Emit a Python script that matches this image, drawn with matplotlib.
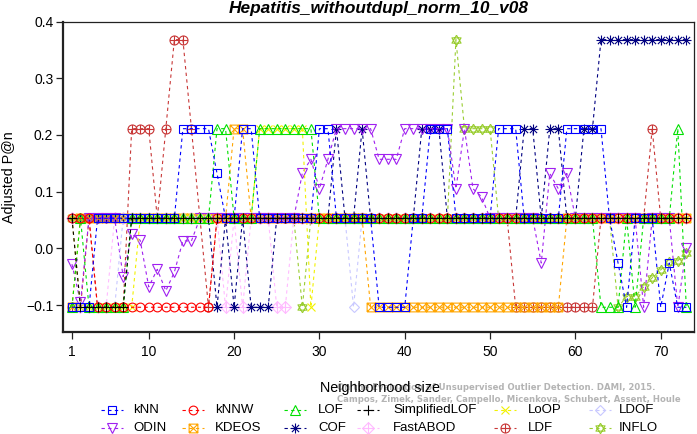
import matplotlib
matplotlib.use("Agg")
import matplotlib.pyplot as plt
from matplotlib.path import Path
from matplotlib.lines import Line2D

# levels of Adjusted P@n that the methods hit
L = -0.104
M = 0.053
H = 0.211
T = 0.368

k = list(range(1, 74))

knn = [L, L, L, M, M, M, M, M, M, M, M, M, M, H, H, H, H, 0.132, M, M,
       H, H, M, M, M, M, M, M, M, H, H, M, M, M, M, M, L, L, L, L,
       M, M, H, H, H, M, M, M, M, M, H, H, H, M, M, M, M, M, H, H,
       H, H, H, M, -0.026, L, M, M, M, L, -0.026, L, L]
knnw = [M, M, M, L, L, L, L, L, L, L, L, L, L, L, L, L, L, M, M, M,
        M, M, M, M, M, M, M, M, M, M, M, M, M, M, M, M, M, M, M, M,
        M, M, M, M, M, M, M, M, M, M, M, M, M, M, M, M, M, M, M, M,
        M, M, M, M, M, M, M, M, M, M, M, M, M]
lof = [L, M, L, L, L, L, L, M, M, M, M, M, M, M, M, M, M, H, H, M,
       M, M, H, H, H, H, H, H, H, M, M, M, M, M, M, M, M, M, M, M,
       M, M, M, M, M, M, M, M, M, M, M, M, M, M, M, M, M, M, M, M,
       M, M, L, L, L, M, L, M, M, M, M, H, L]
simplified_lof = [M, L, L, L, L, L, L, M, M, M, M, M, M, M, M, M, M, M, M, M,
                  M, M, M, M, M, M, M, M, M, M, M, M, M, M, M, M, M, M, M, M,
                  M, M, M, M, M, M, M, M, M, M, M, M, M, M, M, M, M, M, M, M,
                  M, M, M, M, M, M, M, M, M, M, M, M, M]
loop = [M, L, L, L, L, L, L, L, M, M, M, M, M, M, M, M, M, M, M, M,
        M, M, H, H, H, H, H, H, L, M, M, M, M, M, M, M, M, M, M, M,
        M, M, M, M, M, M, M, M, M, M, M, M, M, M, M, M, M, M, M, M,
        M, M, M, M, M, M, M, M, M, M, M, M, M]
ldof = [M, L, L, L, L, L, M, M, M, M, M, M, M, M, M, M, M, M, M, M,
        M, M, M, M, M, M, M, M, M, M, M, M, M, L, M, M, M, M, M, M,
        M, M, M, M, M, M, M, M, M, M, M, M, M, M, M, M, M, M, M, M,
        M, M, M, M, M, M, M, M, M, M, M, M, M]
odin = [-0.028, -0.095, M, M, M, M, -0.05, 0.025, 0.014, -0.068,
        -0.037, -0.075, -0.042, 0.013, 0.013, M, M, M, M, M,
        M, M, M, M, M, M, M, 0.133, 0.157, 0.105,
        0.157, H, H, H, H, H, 0.157, 0.157, 0.157, H,
        H, H, H, H, H, 0.105, H, 0.105, 0.091, M,
        M, M, M, M, M, -0.026, 0.132, 0.105, 0.132, M,
        M, M, M, M, M, M, M, L, M, M, M, L, 0.0]
kdeos = [L, M, M, M, M, M, M, M, M, M, M, M, M, M, M, M, M, M, M, H,
         H, M, M, M, M, M, M, M, M, M, M, M, M, M, M, L, L, L, L, L,
         L, L, L, L, L, L, L, L, L, L, L, L, L, L, L, L, L, L, M, M,
         M, M, M, M, M, M, M, M, M, M, M, M, M]
cof = [M, M, M, M, M, M, M, M, M, M, M, M, M, M, M, M, M, L, M, L,
       M, L, L, L, M, M, M, M, M, M, M, H, M, M, H, M, M, M, M, M,
       M, H, H, H, M, M, M, M, M, M, M, M, M, H, H, M, H, H, M, M,
       H, H, T, T, T, T, T, T, T, T, T, T, T]
fastabod = [M, L, L, L, L, M, M, M, M, M, M, M, M, M, M, M, M, M, L, M,
            L, M, M, M, L, L, M, M, M, M, M, M, M, M, M, M, M, M, M, M,
            M, M, M, M, M, M, M, M, M, M, M, M, M, M, M, M, M, M, M, M,
            M, M, M, M, M, M, M, M, M, M, M, M, M]
ldf = [L, L, M, L, L, L, L, H, H, H, M, H, T, T, H, M, L, M, M, M,
       M, M, M, M, M, M, M, M, M, M, M, M, M, M, M, M, M, M, M, M,
       M, M, M, M, M, M, M, M, M, M, M, M, L, L, L, L, L, L, L, L,
       L, L, M, M, M, M, M, M, H, M, M, M, M]
inflo = [M, M, M, M, M, M, M, M, M, M, M, M, M, M, M, M, M, M, M, M,
         M, M, M, M, M, M, M, L, M, M, M, M, M, M, M, M, M, M, M, M,
         M, M, M, M, M, T, H, H, H, H, M, M, M, M, M, M, M, M, M, M,
         M, M, M, M, L, -0.085, -0.085, -0.068, -0.052, -0.038,
         -0.025, -0.022, -0.008]

names = ["kNN", "kNNW", "LOF", "SimplifiedLOF", "LoOP", "LDOF",
         "ODIN", "KDEOS", "COF", "FastABOD", "LDF", "INFLO"]
series = [knn, knnw, lof, simplified_lof, loop, ldof,
          odin, kdeos, cof, fastabod, ldf, inflo]
colors = ["#0000ff", "#ff0000", "#00e000", "#000000", "#f2f200", "#c8c8ff",
          "#a020f0", "#ffa500", "#000080", "#ffbbff", "#c83737", "#9acd32"]

xticks = [1, 10, 20, 30, 40, 50, 60, 70]
yticks = [-0.1, 0.0, 0.1, 0.2, 0.3, 0.4]
ytick_labels = ["\u22120.1", "0.0", "0.1", "0.2", "0.3", "0.4"]

# R style point symbols
MV, LN = Path.MOVETO, Path.LINETO
square_x = Path([(-1, -1), (1, -1), (1, 1), (-1, 1), (-1, -1),
                 (-1, -1), (1, 1), (-1, 1), (1, -1)],
                [MV, LN, LN, LN, LN, MV, LN, MV, LN])
asterisk = Path([(0, -1), (0, 1), (-1, 0), (1, 0),
                 (-.72, -.72), (.72, .72), (-.72, .72), (.72, -.72)],
                [MV, LN] * 4)
diamond_plus = Path([(0, 1), (1, 0), (0, -1), (-1, 0), (0, 1),
                     (0, -1), (0, 1), (-1, 0), (1, 0)],
                    [MV, LN, LN, LN, LN, MV, LN, MV, LN])
circle_plus = Path.make_compound_path(
    Path.unit_circle(),
    Path([(0, -1), (0, 1), (-1, 0), (1, 0)], [MV, LN, MV, LN]))
star_david = Path([(0, 1), (0.866, -0.5), (-0.866, -0.5), (0, 1),
                   (0, -1), (0.866, 0.5), (-0.866, 0.5), (0, -1)],
                  [MV, LN, LN, LN, MV, LN, LN, LN])

markers = ["s", "o", "^", "+", "x", "D", "v", square_x, asterisk,
           diamond_plus, circle_plus, star_david]
msizes = [5.8, 6.3, 6.8, 7.5, 6.0, 5.4, 7.0, 6.3, 7.2, 8.4, 6.5, 7.6]

plt.rcParams['font.family'] = ['Liberation Sans', 'DejaVu Sans']

fig = plt.figure(figsize=(6.97, 4.34), dpi=100)
ax = fig.add_axes([63 / 697, 1 - 332 / 434, 631 / 697, 310.5 / 434])

# first methods end up on top, the black crosses above everything
n = len(series)
for i, (vals, c, m, ms) in enumerate(zip(series, colors, markers, msizes)):
    z = 2 + n - i
    if names[i] == "SimplifiedLOF":
        z = 3 + n
    ax.plot(k, vals, color=c, lw=0.8, linestyle=(0, (3, 3)),
            marker=m, ms=ms, mfc="none", mec=c, mew=0.8, zorder=z)

ax.set_xlim(-0.05, 73.9)
ax.set_ylim(-0.1476, 0.4)
ax.set_xticks(xticks)
ax.set_yticks(yticks)
ax.set_yticklabels(ytick_labels)
ax.tick_params(axis="both", labelsize=10, length=5, width=0.9, color="#222222")
ax.tick_params(axis="y", pad=2)
ax.tick_params(axis="x", pad=4)
for s in ["left", "bottom"]:
    ax.spines[s].set_linewidth(1.6)
for s in ["top", "right"]:
    ax.spines[s].set_linewidth(0.9)
for s in ax.spines.values():
    s.set_color("#222222")
    s.set_zorder(20)

ax.set_title("Hepatitis_withoutdupl_norm_10_v08", fontsize=12.4,
             fontweight="bold", fontstyle="italic", pad=5.8)

fig.text(9 / 697, 1 - 177 / 434, "Adjusted P@n", rotation=90,
         ha="center", va="center", fontsize=10.3)
fig.text(380 / 697, 1 - 388 / 434, "Neighborhood size",
         ha="center", va="center", fontsize=10.3)

fig.text(337 / 697, 1 - 388 / 434,
         "On the Evaluation of Unsupervised Outlier Detection. DAMI, 2015.",
         ha="left", va="center", fontsize=6.15, fontweight="bold",
         color="#b4b4b4", family="DejaVu Sans", zorder=-1)
fig.text(337 / 697, 1 - 399 / 434,
         "Campos, Zimek, Sander, Campello, Micenkova, Schubert, Assent, Houle",
         ha="left", va="center", fontsize=6.15, fontweight="bold",
         color="#b4b4b4", family="DejaVu Sans", zorder=-1)

# legend, 2 rows x 6 columns, drawn by hand like R's legend()
mark_x = [112, 193, 295, 368, 505, 600]
text_x = [133, 215, 318, 393, 528, 619]
row_y = [410, 428]
for i, (name, c, m, ms) in enumerate(zip(names, colors, markers, msizes)):
    row, col = divmod(i, 6)
    xm = mark_x[col]
    y = 1 - row_y[row] / 434
    fig.add_artist(Line2D([(xm - 11) / 697, (xm + 11) / 697], [y, y],
                          transform=fig.transFigure, color=c, lw=0.8,
                          linestyle=(0, (3, 3))))
    fig.add_artist(Line2D([xm / 697], [y], transform=fig.transFigure,
                          marker=m, ms=ms, mfc="none", mec=c, mew=0.8,
                          linestyle="none"))
    fig.text(text_x[col] / 697, y, name, ha="left", va="center", fontsize=9.5)

fig.savefig("out.png", dpi=100)
